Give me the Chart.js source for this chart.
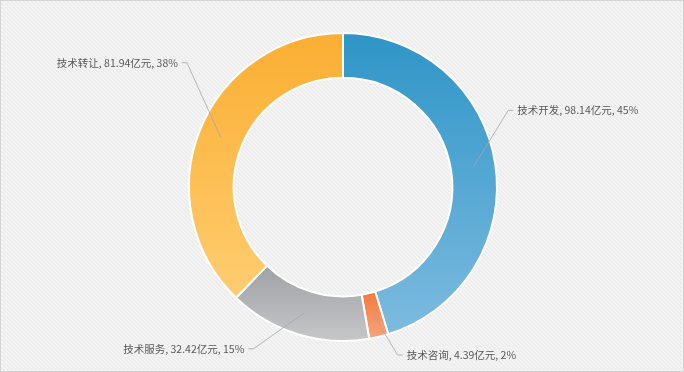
<!DOCTYPE html>
<html>
<head>
<meta charset="utf-8">
<script src="https://cdn.jsdelivr.net/npm/chart.js@4"></script>
<style>
  html, body { margin: 0; padding: 0; background: #efefef; }
  #wrap { width: 684px; height: 372px; position: relative; }
</style>
</head>
<body>
<div id="wrap"><canvas id="grafico"></canvas></div>
<script>
// dados (亿元)
const categorias = ["技术开发", "技术咨询", "技术服务", "技术转让"];
const valores = [98.14, 4.39, 32.42, 81.94];
const unidade = "亿元";

// cores de cada fatia: topo -> base do gradiente
const coresTopo = ["#2e95c7", "#f47a3c", "#a0a1a4", "#fbae32"];
const coresBase = ["#7dbbe0", "#f9a47c", "#c6c7c9", "#fecd70"];

// deslocamento do cotovelo da linha guia em relação ao ponto da fatia
const guiaOffset = [[35, -57], [24, 40], [-51, 36], [-34, -75]];

const total = valores.reduce((a, b) => a + b, 0);

// fundo listrado
function criaPadrao(ctx) {
  const p = document.createElement("canvas");
  p.width = 4; p.height = 4;
  const c = p.getContext("2d");
  c.fillStyle = "#ececec";
  c.fillRect(0, 0, 4, 4);
  c.strokeStyle = "#f7f7f7";
  c.lineWidth = 1.2;
  c.beginPath();
  c.moveTo(-1, -1); c.lineTo(5, 5);
  c.moveTo(-1, 3); c.lineTo(1, 5);
  c.moveTo(3, -1); c.lineTo(5, 1);
  c.stroke();
  return ctx.createPattern(p, "repeat");
}

const fundo = {
  id: "fundo",
  beforeDraw(chart) {
    const { ctx, width, height } = chart;
    ctx.save();
    ctx.fillStyle = criaPadrao(ctx);
    ctx.fillRect(0, 0, width, height);
    ctx.strokeStyle = "#d4d4d4";
    ctx.lineWidth = 1;
    ctx.strokeRect(0.5, 0.5, width - 1, height - 1);
    ctx.restore();
  }
};

// gradiente vertical por fatia
const gradientes = {
  id: "gradientes",
  beforeDatasetsDraw(chart) {
    const { ctx } = chart;
    const meta = chart.getDatasetMeta(0);
    meta.data.forEach((arc, i) => {
      const { x, y, startAngle, endAngle, innerRadius, outerRadius } = arc;
      let minY = Infinity, maxY = -Infinity;
      for (let k = 0; k <= 60; k++) {
        const a = startAngle + (endAngle - startAngle) * k / 60;
        [innerRadius, outerRadius].forEach(r => {
          const py = y + r * Math.sin(a);
          minY = Math.min(minY, py); maxY = Math.max(maxY, py);
        });
      }
      const g = ctx.createLinearGradient(0, minY, 0, maxY);
      g.addColorStop(0, coresTopo[i]);
      g.addColorStop(1, coresBase[i]);
      arc.options.backgroundColor = g;
    });
  }
};

// rótulos com linha guia
const rotulos = {
  id: "rotulos",
  afterDatasetsDraw(chart) {
    const { ctx } = chart;
    const meta = chart.getDatasetMeta(0);
    ctx.save();
    ctx.font = '10.5px "Noto Sans CJK SC", sans-serif';
    ctx.textBaseline = "middle";
    meta.data.forEach((arc, i) => {
      const p = arc.tooltipPosition();
      const ex = p.x + guiaOffset[i][0];
      const ey = p.y + guiaOffset[i][1];
      const dir = guiaOffset[i][0] >= 0 ? 1 : -1;
      ctx.strokeStyle = "#a6a6a6";
      ctx.lineWidth = 0.8;
      ctx.beginPath();
      ctx.moveTo(p.x, p.y);
      ctx.lineTo(ex, ey);
      ctx.lineTo(ex + dir * 5, ey);
      ctx.stroke();
      const pct = Math.round(valores[i] / total * 100);
      const txt = categorias[i] + ", " + valores[i].toFixed(2) + unidade + ", " + pct + "%";
      ctx.fillStyle = "#595959";
      ctx.textAlign = dir > 0 ? "left" : "right";
      ctx.fillText(txt, ex + dir * 9, ey);
    });
    ctx.restore();
  }
};

new Chart(document.getElementById("grafico"), {
  type: "doughnut",
  data: {
    labels: categorias,
    datasets: [
      {
        data: valores,
        backgroundColor: coresTopo,
        borderColor: "#ffffff",
        borderWidth: 2,
      },
    ],
  },
  options: {
    responsive: true,
    maintainAspectRatio: false,
    animation: false,
    cutout: "71%",
    layout: { padding: { top: 32, bottom: 30, left: 2, right: 0 } },
    plugins: {
      legend: { display: false },
      tooltip: { enabled: false },
    },
  },
  plugins: [fundo, gradientes, rotulos],
});
</script>
</body>
</html>
